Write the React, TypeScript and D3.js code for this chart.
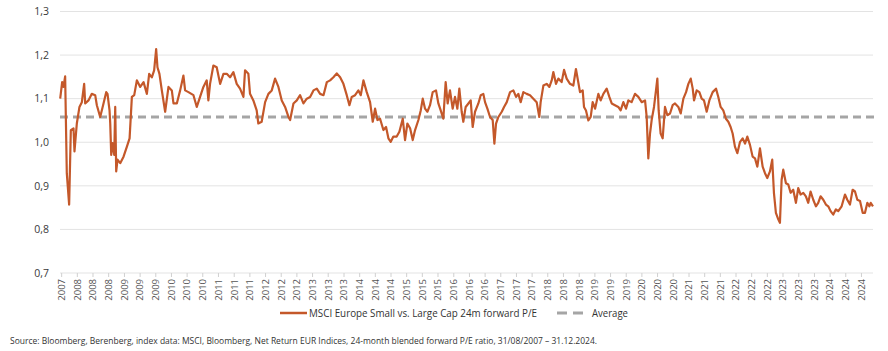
import React from "react";
import * as d3 from "d3";

// ---- DATA ----
const dateYears: number[] = [
  2007.667, 2007.709, 2007.737, 2007.773, 2007.808, 2007.858, 2007.894, 2007.951, 2007.972,
  2008.022, 2008.078, 2008.129, 2008.178, 2008.2, 2008.27, 2008.341, 2008.413, 2008.448, 2008.519,
  2008.59, 2008.647, 2008.675, 2008.718, 2008.733, 2008.754, 2008.782, 2008.818, 2008.839, 2008.86,
  2008.888, 2008.945, 2009.016, 2009.088, 2009.145, 2009.194, 2009.244, 2009.3, 2009.372, 2009.443,
  2009.514, 2009.563, 2009.62, 2009.669, 2009.712, 2009.74, 2009.782, 2009.833, 2009.904, 2009.975,
  2010.046, 2010.082, 2010.153, 2010.224, 2010.294, 2010.33, 2010.401, 2010.508, 2010.579, 2010.649,
  2010.72, 2010.791, 2010.826, 2010.862, 2010.933, 2011.004, 2011.077, 2011.148, 2011.219, 2011.289,
  2011.36, 2011.431, 2011.502, 2011.574, 2011.609, 2011.68, 2011.715, 2011.786, 2011.857, 2011.892,
  2011.964, 2012.037, 2012.107, 2012.178, 2012.249, 2012.32, 2012.391, 2012.462, 2012.534, 2012.569,
  2012.64, 2012.711, 2012.781, 2012.852, 2012.924, 2012.994, 2013.066, 2013.137, 2013.208, 2013.28,
  2013.351, 2013.421, 2013.492, 2013.563, 2013.635, 2013.705, 2013.776, 2013.833, 2013.882, 2013.954,
  2014.025, 2014.076, 2014.132, 2014.203, 2014.274, 2014.331, 2014.381, 2014.431, 2014.487, 2014.558,
  2014.615, 2014.665, 2014.715, 2014.771, 2014.842, 2014.899, 2014.971, 2015.02, 2015.07, 2015.128,
  2015.184, 2015.234, 2015.305, 2015.355, 2015.398, 2015.447, 2015.497, 2015.553, 2015.61, 2015.681,
  2015.731, 2015.781, 2015.837, 2015.887, 2015.929, 2015.979, 2016.036, 2016.086, 2016.136, 2016.178,
  2016.228, 2016.263, 2016.313, 2016.371, 2016.42, 2016.462, 2016.512, 2016.583, 2016.633, 2016.689,
  2016.725, 2016.775, 2016.832, 2016.888, 2016.924, 2016.959, 2017.009, 2017.081, 2017.13, 2017.188,
  2017.258, 2017.329, 2017.386, 2017.435, 2017.485, 2017.542, 2017.613, 2017.684, 2017.755, 2017.826,
  2017.882, 2017.911, 2017.969, 2018.039, 2018.097, 2018.147, 2018.182, 2018.238, 2018.288, 2018.359,
  2018.41, 2018.466, 2018.537, 2018.608, 2018.664, 2018.751, 2018.808, 2018.836, 2018.878, 2018.929,
  2018.979, 2019.021, 2019.072, 2019.142, 2019.192, 2019.249, 2019.32, 2019.377, 2019.427, 2019.497,
  2019.568, 2019.618, 2019.676, 2019.732, 2019.782, 2019.852, 2019.924, 2019.995, 2020.067, 2020.138,
  2020.173, 2020.208, 2020.244, 2020.279, 2020.329, 2020.371, 2020.4, 2020.428, 2020.47, 2020.513,
  2020.563, 2020.613, 2020.67, 2020.726, 2020.776, 2020.847, 2020.897, 2020.954, 2021.011, 2021.06,
  2021.111, 2021.153, 2021.181, 2021.238, 2021.295, 2021.344, 2021.394, 2021.451, 2021.508, 2021.579,
  2021.65, 2021.699, 2021.749, 2021.805, 2021.862, 2021.913, 2021.962, 2022.005, 2022.054, 2022.105,
  2022.163, 2022.219, 2022.269, 2022.318, 2022.375, 2022.431, 2022.482, 2022.532, 2022.588, 2022.645,
  2022.695, 2022.744, 2022.801, 2022.85, 2022.886, 2022.928, 2022.979, 2023.014, 2023.05, 2023.085,
  2023.142, 2023.192, 2023.242, 2023.298, 2023.355, 2023.405, 2023.455, 2023.512, 2023.568, 2023.618,
  2023.668, 2023.725, 2023.782, 2023.831, 2023.881, 2023.939, 2023.995, 2024.045, 2024.095, 2024.152,
  2024.208, 2024.258, 2024.33, 2024.401, 2024.45, 2024.507, 2024.564, 2024.614, 2024.664, 2024.721,
  2024.778, 2024.827, 2024.877, 2024.919, 2024.948, 2024.997,
];

const peRatio: number[] = [
  1.1, 1.138, 1.127, 1.151, 0.929, 0.857, 1.028, 1.032, 0.979,
  1.043, 1.081, 1.092, 1.134, 1.089, 1.096, 1.111, 1.108, 1.085, 1.058,
  1.089, 1.115, 1.111, 1.073, 1.043, 0.971, 0.998, 0.971, 1.081, 0.933,
  0.96, 0.952, 0.967, 0.99, 1.009, 1.104, 1.108, 1.142, 1.127, 1.138,
  1.111, 1.157, 1.149, 1.165, 1.214, 1.172, 1.157, 1.119, 1.07, 1.127,
  1.119, 1.089, 1.089, 1.119, 1.153, 1.119, 1.115, 1.108, 1.081, 1.104,
  1.127, 1.142, 1.096, 1.134, 1.176, 1.172, 1.134, 1.157, 1.157, 1.149,
  1.161, 1.134, 1.123, 1.104, 1.165, 1.157, 1.111, 1.096, 1.073, 1.043,
  1.047, 1.092, 1.111, 1.119, 1.146, 1.127, 1.096, 1.081, 1.058, 1.051,
  1.089, 1.096, 1.108, 1.089, 1.1, 1.104, 1.119, 1.123, 1.111, 1.108,
  1.138, 1.142, 1.149, 1.158, 1.149, 1.134, 1.108, 1.085, 1.104, 1.108,
  1.119, 1.108, 1.142, 1.115, 1.092, 1.047, 1.077, 1.051, 1.054, 1.028,
  1.035, 1.009, 1.001, 1.013, 1.013, 1.024, 1.054, 1.005, 1.043, 1.032,
  1.005, 1.028, 1.051, 1.073, 1.1, 1.077, 1.07, 1.085, 1.115, 1.119,
  1.089, 1.073, 1.054, 1.138, 1.089, 1.119, 1.077, 1.104, 1.077, 1.123,
  1.07, 1.047, 1.081, 1.089, 1.096, 1.035, 1.07, 1.089, 1.108, 1.111,
  1.092, 1.077, 1.058, 1.051, 0.997, 1.043, 1.058, 1.07, 1.081, 1.092,
  1.115, 1.119, 1.104, 1.111, 1.092, 1.115, 1.111, 1.108, 1.1, 1.092,
  1.058, 1.092, 1.13, 1.134, 1.127, 1.142, 1.161, 1.134, 1.146, 1.138,
  1.166, 1.146, 1.134, 1.13, 1.168, 1.115, 1.119, 1.081, 1.073, 1.05,
  1.058, 1.092, 1.077, 1.111, 1.096, 1.111, 1.123, 1.104, 1.089, 1.085,
  1.081, 1.073, 1.092, 1.077, 1.096, 1.092, 1.111, 1.104, 1.092, 1.096,
  1.058, 0.963, 1.02, 1.051, 1.081, 1.119, 1.146, 1.073, 1.02, 1.009,
  1.081, 1.062, 1.066, 1.085, 1.089, 1.081, 1.066, 1.1, 1.115, 1.134,
  1.146, 1.123, 1.096, 1.119, 1.115, 1.1, 1.096, 1.07, 1.096, 1.115,
  1.123, 1.104, 1.081, 1.073, 1.054, 1.047, 1.035, 1.02, 0.99, 0.975,
  1.001, 1.009, 0.997, 1.013, 0.994, 0.967, 0.963, 0.944, 0.986, 0.944,
  0.929, 0.918, 0.933, 0.96, 0.884, 0.838, 0.823, 0.815, 0.914, 0.937,
  0.906, 0.903, 0.884, 0.891, 0.861, 0.895, 0.88, 0.884, 0.876, 0.861,
  0.887, 0.868, 0.853, 0.861, 0.876, 0.868, 0.857, 0.853, 0.842, 0.834,
  0.846, 0.842, 0.853, 0.88, 0.868, 0.857, 0.891, 0.887, 0.868, 0.865,
  0.838, 0.838, 0.861, 0.853, 0.861, 0.853,
];

const averageValue = 1.058;

const yTicks: number[] = [0.7, 0.8, 0.9, 1.0, 1.1, 1.2, 1.3];

const xTickLabels: string[] = [
  "2007",
  "2008", "2008", "2008", "2009", "2009", "2009", "2010", "2010", "2010",
  "2011", "2011", "2011", "2012", "2012", "2012", "2013", "2013", "2013",
  "2014", "2014", "2014", "2015", "2015", "2015", "2016", "2016", "2016",
  "2017", "2017", "2017", "2018", "2018", "2018", "2019", "2019", "2019",
  "2020", "2020", "2020", "2021", "2021", "2021", "2022", "2022", "2022",
  "2023", "2023", "2023", "2024", "2024", "2024",
];

const seriesLabel = "MSCI Europe Small vs. Large Cap 24m forward P/E";
const averageLabel = "Average";
const sourceText =
  "Source: Bloomberg, Berenberg, index data: MSCI, Bloomberg, Net Return EUR Indices, 24-month blended forward P/E ratio, 31/08/2007 \u2013 31.12.2024.";

// ---- helpers ----
function yearToDate(y: number): Date {
  const yr = Math.floor(y);
  const a = Date.UTC(yr, 0, 1);
  const b = Date.UTC(yr + 1, 0, 1);
  return new Date(a + (y - yr) * (b - a));
}

const W = 888;
const H = 351;
const left = 60;
const right = 873;
const top = 11.5;
const bottom = 273;

const FONT = "'Open Sans', 'DejaVu Sans', sans-serif";

export default function App() {
  const x = d3
    .scaleUtc()
    .domain([new Date(Date.UTC(2007, 7, 31)), new Date(Date.UTC(2024, 11, 31))])
    .range([left, right]);
  const y = d3.scaleLinear().domain([0.7, 1.3]).range([bottom, top]);

  const data = dateYears.map((d, i) => ({ date: yearToDate(d), v: peRatio[i] }));
  const line = d3
    .line<{ date: Date; v: number }>()
    .x((d) => x(d.date))
    .y((d) => y(d.v));

  const firstTick = new Date(Date.UTC(2007, 8, 13));
  const tickStepDays = 122.14;
  const tickDates = xTickLabels.map((_, i) => d3.utcDay.offset(firstTick, Math.round(i * tickStepDays)));

  return (
    <svg
      width={W}
      height={H}
      style={{ position: "absolute", left: 0, top: 0, display: "block", background: "#fff" }}
      fontFamily={FONT}
    >
      {/* gridlines */}
      {yTicks.map((t) => (
        <line key={t} x1={left} x2={right} y1={y(t)} y2={y(t)} stroke="#e3e3e3" strokeWidth={1} />
      ))}
      {/* y labels */}
      {yTicks.map((t) => (
        <text key={"l" + t} x={49} y={y(t)} dy="0.35em" textAnchor="end" fontSize={10.5} fill="#3a3a3a">
          {d3.format(".1f")(t).replace(".", ",")}
        </text>
      ))}
      {/* x ticks & labels */}
      {tickDates.map((d, i) => (
        <g key={"x" + i} transform={`translate(${x(d)},${bottom})`}>
          <line y1={0} y2={4} stroke="#d0d0d0" />
          <text
            transform="translate(0,6) rotate(-90)"
            textAnchor="end"
            dy="0.35em"
            fontSize={9.5}
            fill="#555"
          >
            {xTickLabels[i]}
          </text>
        </g>
      ))}
      {/* average */}
      <line
        x1={left}
        x2={877}
        y1={y(averageValue)}
        y2={y(averageValue)}
        stroke="#a5a5a5"
        strokeWidth={3}
        strokeDasharray="8,5"
      />
      {/* series */}
      <path d={line(data) || ""} fill="none" stroke="#c4582a" strokeWidth={2.2} strokeLinejoin="round" />

      {/* legend */}
      <line x1={280} x2={307} y1={313} y2={313} stroke="#c4582a" strokeWidth={2.5} />
      <text x={309} y={313} dy="0.35em" fontSize={10.5} fill="#333" textLength={228} lengthAdjust="spacingAndGlyphs">
        {seriesLabel}
      </text>
      <line x1={557} x2={588} y1={313} y2={313} stroke="#a5a5a5" strokeWidth={3} strokeDasharray="10,6" />
      <text x={592} y={313} dy="0.35em" fontSize={10.5} fill="#333" textLength={36} lengthAdjust="spacingAndGlyphs">
        {averageLabel}
      </text>

      {/* source */}
      <text x={10} y={341} dy="0.35em" fontSize={8.2} fill="#333" textLength={587} lengthAdjust="spacingAndGlyphs">
        {sourceText}
      </text>
    </svg>
  );
}
